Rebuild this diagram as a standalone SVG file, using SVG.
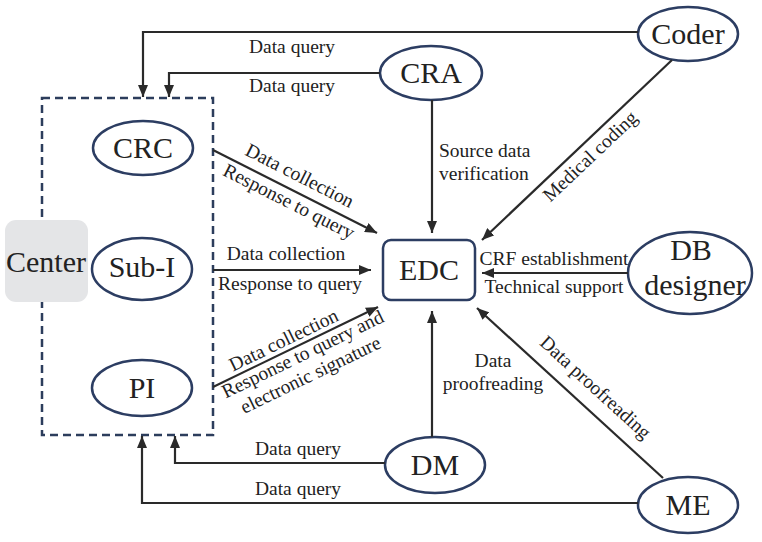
<svg xmlns="http://www.w3.org/2000/svg" width="762" height="542" viewBox="0 0 762 542">
<style>
text{font-family:'Liberation Serif',serif;fill:#222}
.n{font-size:30px;text-anchor:middle}
.l{font-size:19.5px;text-anchor:middle}
.e{fill:#fff;stroke:#2c3d62;stroke-width:2.5}
.c{fill:none;stroke:#2a2a2a;stroke-width:2.2}
</style>
<defs>
<marker id="a" markerUnits="userSpaceOnUse" markerWidth="12" markerHeight="10" refX="12" refY="5" orient="auto">
<path d="M0,0 L12,5 L0,10 z" fill="#2a2a2a"/>
</marker>
</defs>
<rect x="0" y="0" width="762" height="542" fill="#fff"/>
<g id="center-group">
<rect x="42" y="98" width="171" height="337" fill="none" stroke="#2c3d5c" stroke-width="2.5" stroke-dasharray="8,5"/>
</g>
<g id="center">
<rect x="5" y="220" width="83" height="82" rx="11" fill="#e4e5e7"/>
<text class="n" x="46" y="272">Center</text>
</g>
<g id="crc"><ellipse class="e" cx="143" cy="148" rx="50" ry="27"/><text class="n" x="143" y="158">CRC</text></g>
<g id="subi"><ellipse class="e" cx="142" cy="269" rx="50" ry="31"/><text class="n" x="142" y="277">Sub-I</text></g>
<g id="pi"><ellipse class="e" cx="142" cy="388" rx="50" ry="28"/><text class="n" x="142" y="398">PI</text></g>
<g id="coder"><ellipse class="e" cx="688" cy="34" rx="50" ry="27"/><text class="n" x="688" y="44">Coder</text></g>
<g id="cra"><ellipse class="e" cx="431" cy="73" rx="51" ry="27"/><text class="n" x="431" y="83">CRA</text></g>
<g id="edc"><rect x="383" y="240" width="92" height="60" rx="8" fill="#fff" stroke="#2c3d62" stroke-width="2.5"/><text class="n" x="429" y="280">EDC</text></g>
<g id="db"><ellipse class="e" cx="690" cy="273" rx="62" ry="41"/><text class="n" x="691" y="260">DB</text><text class="n" x="695" y="295">designer</text></g>
<g id="dm"><ellipse class="e" cx="435" cy="465" rx="50" ry="28"/><text class="n" x="435" y="475">DM</text></g>
<g id="me"><ellipse class="e" cx="688" cy="505" rx="50" ry="28"/><text class="n" x="688" y="515">ME</text></g>
<g id="connectors">
<path class="c" d="M638,32 H143 V97" marker-end="url(#a)"/>
<path class="c" d="M380,73 H169 V97" marker-end="url(#a)"/>
<path class="c" d="M432,100 V233" marker-end="url(#a)"/>
<path class="c" d="M672,60 L482,240" marker-end="url(#a)"/>
<path class="c" d="M628,273 H482" marker-end="url(#a)"/>
<path class="c" d="M663,478 L477,308" marker-end="url(#a)"/>
<path class="c" d="M432,437 V311" marker-end="url(#a)"/>
<path class="c" d="M385,463 H175 V436" marker-end="url(#a)"/>
<path class="c" d="M638,503 H142 V436" marker-end="url(#a)"/>
<path class="c" d="M213,150 L377,233" marker-end="url(#a)"/>
<path class="c" d="M213,270 H371" marker-end="url(#a)"/>
<path class="c" d="M213,387 L378,307" marker-end="url(#a)"/>
</g>
<g id="labels">
<text class="l" x="292" y="53">Data query</text>
<text class="l" x="292" y="92">Data query</text>
<text class="l" x="298" y="455">Data query</text>
<text class="l" x="298" y="495">Data query</text>
<text class="l" x="439" y="157" style="text-anchor:start">Source data</text>
<text class="l" x="439" y="180" style="text-anchor:start">verification</text>
<text class="l" x="554" y="265">CRF establishment</text>
<text class="l" x="554" y="293">Technical support</text>
<text class="l" x="493" y="367">Data</text>
<text class="l" x="493" y="390">proofreading</text>
<text class="l" x="286" y="260">Data collection</text>
<text class="l" x="290" y="290">Response to query</text>
<g transform="translate(292.4,190.2) rotate(26.84)">
<text class="l" x="0" y="-10">Data collection</text>
<text class="l" x="2" y="18">Response to query</text>
</g>
<g transform="translate(294,347.7) rotate(-25.87)">
<text class="l" x="-6" y="-5">Data collection</text>
<text class="l" x="5" y="16">Response to query and</text>
<text class="l" x="3" y="38">electronic signature</text>
</g>
<g transform="translate(580.7,146.4) rotate(-43.45)">
<text class="l" x="0" y="20">Medical coding</text>
</g>
<g transform="translate(581.1,403.2) rotate(42.4)">
<text class="l" x="0" y="-15">Data proofreading</text>
</g>
</g>
</svg>
